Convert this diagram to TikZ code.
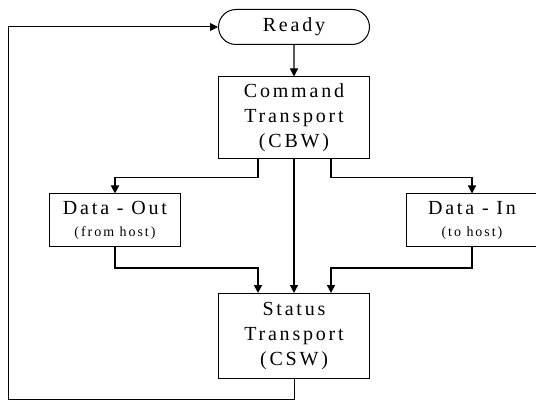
\documentclass[tikz,border=0pt]{standalone}
\usepackage{fontspec}
\setmainfont{Liberation Serif}
\newfontfamily\spacedfont[LetterSpace=14]{Liberation Serif}
\usetikzlibrary{positioning,arrows.meta,shapes.misc}

\begin{document}
\begin{tikzpicture}[x=1pt,y=-1pt]
\useasboundingbox (0,0) rectangle (536,401);
% Draw Flow Chart
   \begin{scope}[ on grid,>={Triangle[width=8pt,length=8pt]},
                   term/.style={rounded rectangle,draw,line width=1pt,minimum width=151pt,minimum height=35pt,inner sep=0pt,
                                font=\spacedfont\fontsize{20}{25}\selectfont},
                   box/.style={rectangle,draw,line width=1pt,minimum width=151pt,inner sep=0pt,align=center,
                                font=\spacedfont\fontsize{20}{25}\selectfont},
                   sidebox/.style={rectangle,draw,line width=1pt,minimum width=131pt,minimum height=52pt,inner sep=0pt,align=center,
                                font=\spacedfont\fontsize{20}{22}\selectfont},
                   flow/.style={->,line width=1.2pt} ]
     \node [term]    (ready)                              at (294,27) {Ready};
     \node [box,minimum height=82pt]     (cmd)    [below=91pt of ready]  {Command\\Transport\\(CBW)};
     \node [box,minimum height=85pt]     (status) [below=218pt of cmd]   {Status\\Transport\\(CSW)};
     \node [sidebox] (out)    [below left=102pt and 179pt of cmd]  {Data - Out\\{\fontsize{14}{18}\selectfont (from host)}};
     \node [sidebox] (in)     [below right=102pt and 178pt of cmd] {Data - In\\{\fontsize{14}{18}\selectfont (to host)}};
     \coordinate (corner) at (8.5,399);
     \draw [flow] (ready) -- (cmd);
     \draw [flow] (cmd) -- (status);
     \draw [flow,line width=1.8pt] ([xshift=-36pt]cmd.south) -- ++(0,18) -| (out);
     \draw [flow] ([xshift=37pt]cmd.south) -- ++(0,18) -| (in);
     \draw [flow,line width=1.8pt] (out.south) -- ++(0,21.5) -| ([xshift=-36pt]status.north);
     \draw [flow,line width=1.5pt] (in.south) -- ++(0,21.5) -| ([xshift=37pt]status.north);
     \draw [flow,line width=1pt] (status.south) |- (corner) |- (ready.west);
   \end{scope}
\end{tikzpicture}
\end{document}
